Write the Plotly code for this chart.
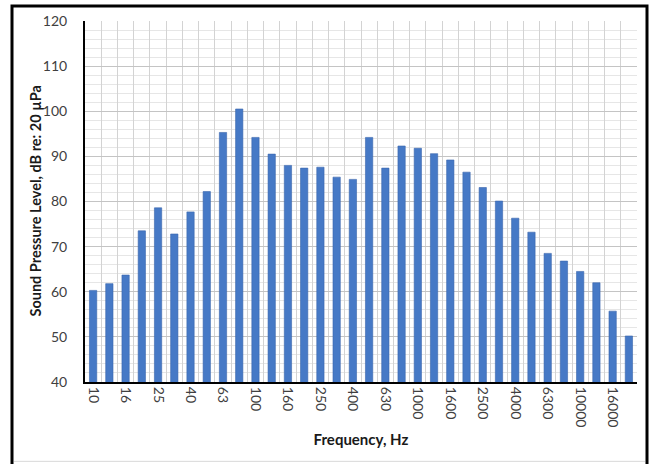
import plotly.graph_objects as go

# One-third-octave band centre frequencies (Hz) and measured levels (dB re 20 µPa)
bands = ["10", "12.5", "16", "20", "25", "31.5", "40", "50", "63", "80",
         "100", "125", "160", "200", "250", "315", "400", "500", "630", "800",
         "1000", "1250", "1600", "2000", "2500", "3150", "4000", "5000", "6300", "8000",
         "10000", "12500", "16000", "20000"]
levels = [60.3, 61.8, 63.7, 73.5, 78.6, 72.8, 77.7, 82.2, 95.3, 100.5,
          94.2, 90.5, 88.0, 87.4, 87.6, 85.4, 84.9, 94.2, 87.4, 92.3,
          91.8, 90.6, 89.2, 86.5, 83.1, 80.1, 76.3, 73.2, 68.5, 66.8,
          64.5, 62.0, 55.7, 50.2]
# every other band is labelled on the axis
tick_text = [b if i % 2 == 0 else "" for i, b in enumerate(bands)]
y_ticks = [40, 50, 60, 70, 80, 90, 100, 110, 120]

FONT = "Lato"
W, H = 651, 464
L, R, T, B = 85, 14, 18, 82
pw, ph = W - L - R, H - T - B

fig = go.Figure(go.Bar(
    x=bands, y=levels,
    marker=dict(color="#4679c6", line=dict(color="#3a67ad", width=0.6)),
    width=0.45,
))

fig.update_layout(
    width=W, height=H,
    margin=dict(l=L, r=R, t=T, b=B),
    paper_bgcolor="white", plot_bgcolor="white",
    showlegend=False,
    font=dict(family=FONT, color="#3a3a3a", size=14),
)

fig.update_xaxes(
    type="category",
    tickmode="array", tickvals=bands, ticktext=tick_text,
    tickson="boundaries", ticks="",
    tickangle=90,
    tickfont=dict(family=FONT, size=14, color="#404040"),
    showgrid=True, gridcolor="#d3d3d3", gridwidth=1,
    showline=True, linecolor="black", linewidth=2,
    title=dict(text="<b>Frequency, Hz</b>", font=dict(family=FONT, size=15, color="#1a1a1a"),
               standoff=8),
    range=[-0.5, len(bands) - 0.5],
)

fig.update_yaxes(
    range=[40, 120],
    tickmode="array", tickvals=y_ticks,
    ticks="", ticklabelstandoff=13,
    tickfont=dict(family=FONT, size=14, color="#404040"),
    showgrid=True, gridcolor="#c4c4c4", gridwidth=1,
    minor=dict(dtick=2, showgrid=True, gridcolor="#e6e6e6", gridwidth=1),
    showline=True, linecolor="black", linewidth=2,
    zeroline=False,
)

# vertical axis title
fig.add_annotation(
    text="<b>Sound Pressure Level, dB re: 20 µPa</b>",
    xref="paper", yref="paper", x=(35 - L) / pw, y=0.5,
    xanchor="center", yanchor="middle", textangle=-90, showarrow=False,
    font=dict(family=FONT, size=14.5, color="#1a1a1a"),
)

# black frame around the whole chart
fig.add_shape(type="rect", xref="paper", yref="paper",
              x0=(12 - L) / pw, x1=(647 - L) / pw,
              y0=(H - B - 470) / ph, y1=(H - B - 3) / ph,
              line=dict(color="black", width=3), fillcolor="rgba(0,0,0,0)", layer="above")
# faint inner line near the lower edge
fig.add_shape(type="line", xref="paper", yref="paper",
              x0=(14 - L) / pw, x1=(645 - L) / pw,
              y0=(H - B - 462) / ph, y1=(H - B - 462) / ph,
              line=dict(color="#d8d8d8", width=1))

fig.write_html("out.html")
